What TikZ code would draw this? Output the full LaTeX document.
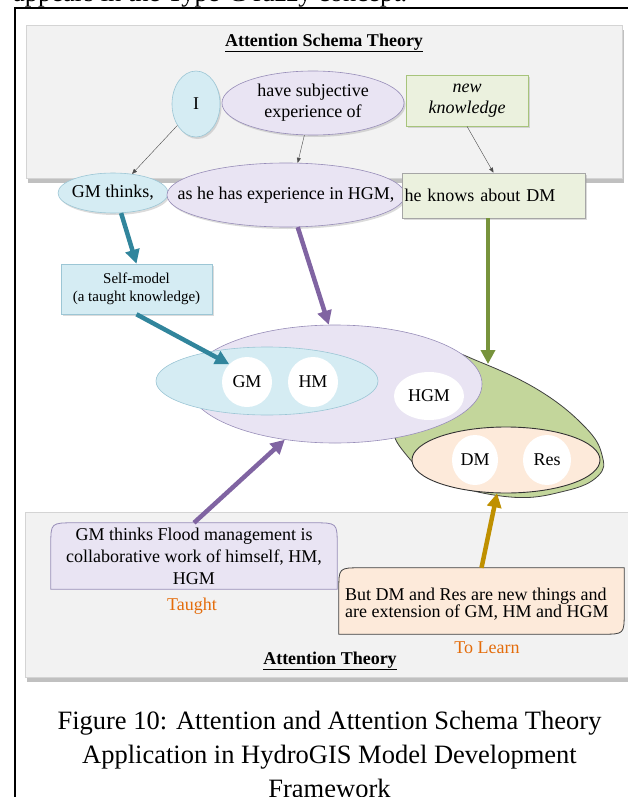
\documentclass[tikz,border=0pt]{standalone}
\usepackage{fontspec}
\setmainfont{Liberation Serif}
\usetikzlibrary{arrows.meta,shadows,calc,shapes.geometric}
\newcommand\myfs[2]{\fontsize{#1}{#2}\selectfont}
\definecolor{pan}{HTML}{F2F2F2}
\definecolor{panb}{HTML}{D4D4D4}
\definecolor{lblue}{HTML}{D5ECF3}
\definecolor{lblueb}{HTML}{9CC6D5}
\definecolor{lav}{HTML}{E9E4F3}
\definecolor{lavb}{HTML}{978DB8}
\definecolor{lgreen}{HTML}{EBF1DE}
\definecolor{lgreenb}{HTML}{A7C47B}
\definecolor{cgr}{HTML}{C3D69B}
\definecolor{beige}{HTML}{FDEADA}
\definecolor{cteal}{HTML}{31859C}
\definecolor{cpurple}{HTML}{8064A2}
\definecolor{cgreen}{HTML}{77933C}
\definecolor{cgold}{HTML}{BF9000}
\definecolor{corange}{HTML}{E46C0A}
\tikzset{
  panel/.style={fill=pan, draw=panb, line width=0.6pt,
    drop shadow={shadow xshift=2pt, shadow yshift=-5pt, fill=black!45, opacity=0.55}},
  ell/.style={ellipse, inner sep=0pt, line width=0.6pt, font=\myfs{18}{21}, align=center},
  boxn/.style={rectangle, inner sep=0pt, line width=0.6pt, font=\myfs{18}{21}, align=center},
  soft/.style={drop shadow={shadow xshift=1.5pt, shadow yshift=-2pt, fill=black!40, opacity=0.35}},
  whitec/.style={ellipse, fill=white, inner sep=0pt, font=\myfs{18}{21}},
  txt/.style={inner sep=0pt, font=\myfs{18}{21}},
  thinarrow/.style={line width=0.4pt, draw=black!70, -{Triangle[width=4pt,length=5pt]}},
  fatarrow/.style={line width=4.5pt, -{Triangle[width=14pt,length=14pt]}},
}
\begin{document}
\begin{tikzpicture}[x=1pt,y=-1pt]
\useasboundingbox (0,0) rectangle (628,797);
% previous page line and frame
\node[anchor=base west, inner sep=0pt, font=\myfs{26.5}{30}] (prev) at (13,1.5) {appears in the Type-C fuzzy concept.};
\draw[line width=1.4pt] (15,805) -- (15,8) -- (640,8);
% panels
\path[panel] (26,25) rectangle (622,178);
\path[panel] (25,512) rectangle (640,677);
% top panel
\node[txt, font=\bfseries\myfs{18}{21}] (title) at (324,43) {\underline{Attention Schema Theory}};
\node[ell, soft, fill=lblue, draw=lblueb, minimum width=48pt, minimum height=66pt] (I) at (196,104) {I};
\node[ell, soft, fill=lav, draw=lavb, minimum width=182pt, minimum height=64pt] (hse) at (313,103) {have subjective\\experience of};
\node[boxn, soft, fill=lgreen, draw=lgreenb, minimum width=122pt, minimum height=51pt, font=\itshape\myfs{18}{21}] (nk) at (467,100.5) {new\\knowledge};
\node[ell, soft, fill=lblue, draw=lblueb, minimum width=110pt, minimum height=40pt] (gmt) at (113,193) {\makebox[0pt][c]{GM thinks,}};
\node[ell, soft, fill=lav, draw=lavb, minimum width=238pt, minimum height=64pt] (ahh) at (286,195) {\makebox[0pt][c]{as he has experience in HGM,}};
\node[boxn, soft, fill=lgreen, draw=black!35, text width=178pt, inner xsep=2.5pt, align=left, minimum height=45pt] (hk) at (493.5,195.5) {he knows about DM};
\draw[thinarrow] (I.229) -- (gmt.45);
\draw[thinarrow] (hse.255) -- (ahh.70);
\draw[thinarrow] (nk.south) -- (hk.north);
% self-model
\node[boxn, soft, fill=lblue, draw=lblueb, minimum width=151pt, minimum height=50pt, font=\myfs{15}{18.5}] (sm) at (136.5,289) {Self-model\\(a taught knowledge)};
% middle cluster
\draw[fill=cgr, draw=black!75, line width=0.8pt] plot[smooth cycle, tension=0.7] coordinates {(395,360) (440,350) (480,362) (540,391) (585,427) (602,455) (598,476) (565,491) (510,497) (440,480) (404,452) (392,420)};
\coordinate (gtop) at (488,364);
\node[ell, fill=lav, draw=lavb, minimum width=294pt, minimum height=118pt] (lav) at (335,384) {};
\node[ell, fill=lblue, draw=lblueb, minimum width=222pt, minimum height=68pt] (blu) at (267,381) {};
\node[whitec, minimum width=50pt, minimum height=50pt] (gmc) at (247,382) {GM};
\node[whitec, minimum width=50pt, minimum height=50pt] (hmc) at (313,382) {HM};
\node[whitec, minimum width=70pt, minimum height=48pt] (hgm) at (429,396) {HGM};
\node[ell, fill=beige, draw=black!80, line width=0.9pt, minimum width=188pt, minimum height=66pt] (bei) at (506,460) {};
\node[whitec, minimum width=46pt, minimum height=50pt] (dmc) at (475,460) {DM};
\node[whitec, minimum width=48pt, minimum height=50pt] (resc) at (547,460) {Res};
% bottom boxes
\path node[rectangle, inner sep=0pt, minimum width=286pt, minimum height=66pt] (gmb) at (194,556) {};
\draw[fill=lav, draw=lavb, line width=0.8pt] (gmb.south west) -- ($(gmb.north west)+(0,22)$) .. controls (gmb.north west) .. ($(gmb.north west)+(24,0)$) -- ($(gmb.north east)+(-24,0)$) .. controls (gmb.north east) .. ($(gmb.north east)+(0,22)$) -- (gmb.south east) -- cycle;
\node[txt, align=center, font=\myfs{18}{22}] (gmbt) at (gmb.center) {GM thinks Flood management is\\collaborative work of himself, HM,\\HGM};
\path node[rectangle, inner sep=0pt, minimum width=285pt, minimum height=66pt] (bbox) at (481.5,601) {};
\draw[fill=beige, draw=black!75, line width=0.8pt] ($(bbox.north west)+(0,22)$) .. controls (bbox.north west) .. ($(bbox.north west)+(22,0)$) -- (bbox.north east) -- ($(bbox.south east)+(0,-22)$) .. controls (bbox.south east) .. ($(bbox.south east)+(-22,0)$) -- (bbox.south west) -- cycle;
\node[txt, anchor=west, align=left, font=\myfs{18}{16.5}] (bboxt) at (345,604) {But DM and Res are new things and\\are extension of GM, HM and HGM};
\node[txt, text=corange] (taught) at (192,606) {Taught};
\node[txt, text=corange] (tolearn) at (487,648) {To Learn};
\node[txt, font=\bfseries\myfs{18}{21}] (at2) at (330,661) {\underline{Attention Theory}};
% thick arrows
\draw[fatarrow, draw=cteal, fill=cteal] (gmt.292) -- (sm.north);
\draw[fatarrow, draw=cteal, fill=cteal] (sm.south) -- (gmc.135);
\draw[fatarrow, draw=cpurple, fill=cpurple] (ahh.290) -- (lav.96);
\draw[fatarrow, draw=cgreen, fill=cgreen] (hk.south -| gtop) -- (gtop);
\draw[fatarrow, draw=cpurple, fill=cpurple] (gmb.north) -- (lav.228);
\draw[fatarrow, draw=cgold, fill=cgold] (bbox.north) -- (bei.255);
% caption
\node[anchor=base, inner sep=0pt, font=\myfs{26.5}{30}] (cap1) at (329.5,729) {Figure 10: Attention and Attention Schema Theory};
\node[anchor=base, inner sep=0pt, font=\myfs{26.5}{30}] (cap2) at (329.5,763) {Application in HydroGIS Model Development};
\node[anchor=base, inner sep=0pt, font=\myfs{26.5}{30}] (cap3) at (329.5,797) {Framework};
\end{tikzpicture}
\end{document}
